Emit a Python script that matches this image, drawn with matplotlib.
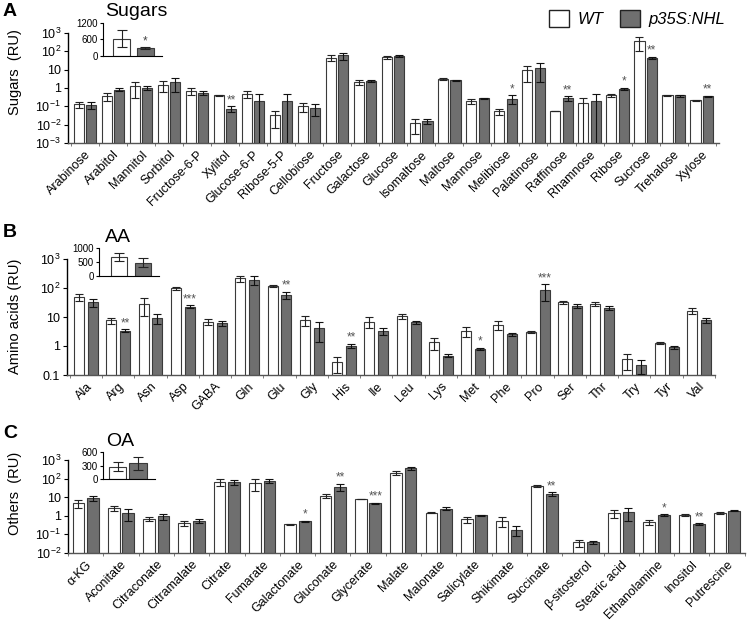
import numpy as np
import matplotlib.pyplot as plt
from matplotlib.patches import Patch
from matplotlib.ticker import NullLocator

plt.rcParams['font.family'] = ['Liberation Sans', 'DejaVu Sans']
plt.rcParams['mathtext.default'] = 'regular'

# ---- data (relative units) ----
sugar_names = ['Arabinose', 'Arabitol', 'Mannitol', 'Sorbitol', 'Fructose-6-P', 'Xylitol',
               'Glucose-6-P', 'Ribose-5-P', 'Cellobiose', 'Fructose', 'Galactose', 'Glucose',
               'Isomaltose', 'Maltose', 'Mannose', 'Melibiose', 'Palatinose', 'Raffinose',
               'Rhamnose', 'Ribose', 'Sucrose', 'Trehalose', 'Xylose']
sugar_wt = [0.13, 0.36, 1.23, 1.5, 0.69, 0.40, 0.49, 0.032, 0.10, 45, 2.1, 49,
            0.012, 3.0, 0.19, 0.053, 9.2, 0.053, 0.15, 0.40, 350, 0.40, 0.21]
sugar_wt_err = [0.05, 0.17, 0.95, 0.9, 0.3, 0.03, 0.2, 0.025, 0.05, 15, 0.6, 10,
                0.009, 0.3, 0.05, 0.02, 7, 0.0, 0.15, 0.07, 250, 0.04, 0.01]
sugar_nhl = [0.12, 0.81, 1.0, 2.1, 0.56, 0.074, 0.19, 0.19, 0.085, 60, 2.4, 56,
             0.016, 2.6, 0.27, 0.26, 13, 0.28, 0.19, 0.92, 45, 0.39, 0.35]
sugar_nhl_err = [0.05, 0.15, 0.25, 1.5, 0.12, 0.025, 0.28, 0.3, 0.055, 25, 0.2, 8,
                 0.005, 0.15, 0.03, 0.13, 11, 0.08, 0.26, 0.12, 5, 0.05, 0.03]
sugar_stars = ['', '', '', '', '', '**', '', '', '', '', '', '', '', '', '', '*', '',
               '**', '', '*', '**', '', '**']

aa_names = ['Ala', 'Arg', 'Asn', 'Asp', 'GABA', 'Gln', 'Glu', 'Gly', 'His', 'Ile',
            'Leu', 'Lys', 'Met', 'Phe', 'Pro', 'Ser', 'Thr', 'Try', 'Tyr', 'Val']
aa_wt = [49, 7.6, 29, 100, 6.9, 215, 117, 7.9, 0.27, 6.9,
         10.5, 1.35, 3.4, 5.4, 3.0, 32, 29, 0.35, 1.26, 16.6]
aa_wt_err = [12, 2, 18, 12, 1.8, 50, 6, 3, 0.15, 2.8,
             2, 0.6, 1.3, 1.7, 0.2, 5, 5, 0.2, 0.12, 4]
aa_nhl = [32, 3.4, 9.1, 23, 6.1, 187, 59, 4.1, 1.02, 3.3,
          6.5, 0.46, 0.8, 2.6, 87, 24, 21, 0.22, 0.92, 7.9]
aa_nhl_err = [9, 0.4, 3.5, 3, 1.2, 65, 16, 2.7, 0.18, 0.9,
              0.8, 0.05, 0.07, 0.3, 50, 3, 3, 0.11, 0.12, 1.5]
aa_stars = ['', '**', '', '***', '', '', '**', '', '**', '',
            '', '', '*', '', '***', '', '', '', '', '']

oa_names = ['α-KG', 'Aconitate', 'Citraconate', 'Citramalate', 'Citrate', 'Fumarate',
            'Galactonate', 'Gluconate', 'Glycerate', 'Malate', 'Malonate', 'Salicylate',
            'Shikimate', 'Succinate', 'β-sitosterol', 'Stearic acid', 'Ethanolamine',
            'Inositol', 'Putrescine']
oa_wt = [4.8, 2.6, 0.69, 0.41, 69, 56, 0.36, 12.3, 8.1, 210, 1.5, 0.66,
         0.54, 42, 0.037, 1.4, 0.46, 1.1, 1.4]
oa_wt_err = [2.2, 0.8, 0.15, 0.12, 30, 35, 0.02, 3, 0.2, 45, 0.02, 0.25,
             0.3, 6, 0.015, 0.6, 0.12, 0.1, 0.2]
oa_nhl = [8.9, 1.4, 0.92, 0.54, 63, 75, 0.51, 37, 4.8, 357, 2.4, 1.05,
          0.18, 15, 0.038, 1.6, 1.13, 0.36, 1.85]
oa_nhl_err = [3, 0.9, 0.3, 0.15, 17, 20, 0.02, 15, 0.3, 70, 0.4, 0.1,
              0.1, 3, 0.008, 1.1, 0.1, 0.05, 0.1]
oa_stars = ['', '', '', '', '', '', '*', '**', '***', '', '', '',
            '', '**', '', '', '*', '**', '']

# totals for the insets: [WT, p35S:NHL]
sugar_total = [630, 277]
sugar_total_err = [310, 30]
aa_total = [668, 475]
aa_total_err = [150, 170]
oa_total = [273, 349]
oa_total_err = [100, 150]

W, H = 747, 620
GRAY = '#6f6f6f'
EDGE = '#3a3a3a'

fig = plt.figure(figsize=(W / 100, H / 100), dpi=100)


def fx(px):
    return px / W


def fy(px):
    return 1 - px / H


def draw_panel(rect, names, wt, wt_err, nhl, nhl_err, stars, xpos, off, w, xlim, ylim,
               yticks, yticklabels, boundaries):
    ax = fig.add_axes(rect)
    ax.set_yscale('log')
    wt = np.array(wt, float)
    nhl = np.array(nhl, float)
    wt_err = np.array(wt_err, float)
    nhl_err = np.array(nhl_err, float)
    ax.bar(xpos - off, wt, w, color='white', edgecolor=EDGE, lw=0.8, zorder=2)
    ax.bar(xpos + off, nhl, w, color=GRAY, edgecolor=EDGE, lw=0.8, zorder=2)
    ax.errorbar(xpos - off, wt, yerr=[np.minimum(wt_err, wt * 0.999), wt_err], fmt='none',
                ecolor='#222222', elinewidth=0.8, capsize=3.2, capthick=0.8, zorder=3)
    ax.errorbar(xpos + off, nhl, yerr=[np.minimum(nhl_err, nhl * 0.999), nhl_err], fmt='none',
                ecolor='#111111', elinewidth=0.8, capsize=3.2, capthick=0.8, zorder=3)
    for x, v, e, s in zip(xpos + off, nhl, nhl_err, stars):
        if s:
            ax.annotate(s, xy=(x, v + e), xytext=(0, 0), textcoords='offset points',
                        ha='center', va='bottom', fontsize=8.5, color='#555555')
    ax.set_xlim(*xlim)
    ax.set_ylim(*ylim)
    ax.set_yticks(yticks)
    ax.set_yticklabels(yticklabels, fontsize=9)
    ax.yaxis.set_minor_locator(NullLocator())
    ax.set_xticks(xpos)
    ax.set_xticklabels(names, rotation=45, ha='right', rotation_mode='anchor', fontsize=9)
    ax.set_xticks(boundaries, minor=True)
    ax.tick_params(axis='x', which='major', length=0, pad=4)
    ax.tick_params(axis='x', which='minor', length=2, color='#666666')
    ax.tick_params(axis='y', length=3, width=0.8, pad=2)
    for s in ['top', 'right']:
        ax.spines[s].set_visible(False)
    ax.spines['left'].set_linewidth(1.0)
    ax.spines['bottom'].set_color('#555555')
    ax.spines['bottom'].set_linewidth(1.0)
    return ax


def draw_inset(rect, vals, errs, star, ymax, yticks, xlim, w):
    ins = fig.add_axes(rect)
    ins.bar([0, 1], vals, w, color=['white', GRAY], edgecolor=EDGE, lw=0.8)
    ins.errorbar([0, 1], vals, yerr=errs, fmt='none', ecolor='#222222',
                 elinewidth=0.8, capsize=3.5, capthick=0.8)
    if star:
        ins.annotate(star, xy=(1, vals[1] + errs[1]), xytext=(0, 0), textcoords='offset points',
                     ha='center', va='bottom', fontsize=8.5, color='#444444')
    ins.set_ylim(0, ymax)
    ins.set_xlim(*xlim)
    ins.set_yticks(yticks)
    ins.set_yticklabels([str(t) for t in yticks], fontsize=7)
    ins.set_xticks([])
    ins.tick_params(axis='y', length=2.5, pad=1)
    ins.patch.set_alpha(0)
    for s in ['top', 'right']:
        ins.spines[s].set_visible(False)
    return ins


log_labels = {3: '$10^{3}$', 2: '$10^{2}$', 1: '10', 0: '1', -1: '$10^{-1}$',
              -2: '$10^{-2}$', -3: '$10^{-3}$'}

# ---- panel A: sugars ----
nA = len(sugar_names)
xA = np.arange(nA)
draw_panel([fx(68), fy(143), fx(28.04 * (nA + 0.2)), (143 - 33) / H],
           sugar_names, sugar_wt, sugar_wt_err, sugar_nhl, sugar_nhl_err, sugar_stars,
           xA, 0.22, 0.36, (-0.6, nA - 0.4), (1e-3, 1e3),
           [10.0 ** k for k in range(-3, 4)], [log_labels[k] for k in range(-3, 4)],
           np.arange(nA + 1) - 0.5)

# ---- panel B: amino acids ----
nB = len(aa_names)
xB = np.arange(nB)
draw_panel([fx(67), fy(375), fx(648), (375 - 259) / H],
           aa_names, aa_wt, aa_wt_err, aa_nhl, aa_nhl_err, aa_stars,
           xB, 0.215, 0.31, (-0.59, nB - 0.59), (0.1, 1e3),
           [0.1, 1, 10, 100, 1000], ['0.1', '1', '10', '$10^{2}$', '$10^{3}$'],
           np.arange(nB + 1) - 0.5)

# ---- panel C: others ----
nC = len(oa_names)
xC = np.arange(nC) + np.where(np.arange(nC) >= 14, 0.17, 0.0)
bC = np.concatenate([np.arange(15) - 0.5, np.arange(15, nC + 1) - 0.5 + 0.17])
draw_panel([fx(68), fy(553), fx(35.3 * (nC + 0.17)), (553 - 460) / H],
           oa_names, oa_wt, oa_wt_err, oa_nhl, oa_nhl_err, oa_stars,
           xC, 0.205, 0.33, (-0.5, nC - 0.5 + 0.17), (1e-2, 1e3),
           [10.0 ** k for k in range(-2, 4)], [log_labels[k] for k in range(-2, 4)],
           bC)

# ---- insets ----
draw_inset([fx(103), fy(56), fx(59), 33.3 / H], sugar_total, sugar_total_err, '*',
           1200, [0, 600, 1200], (-0.79, 1.72), 0.72)
draw_inset([fx(99), fy(276), fx(60), 28 / H], aa_total, aa_total_err, '',
           1000, [0, 500, 1000], (-0.8, 1.65), 0.65)
draw_inset([fx(103), fy(479), fx(52), 27 / H], oa_total, oa_total_err, '',
           600, [0, 300, 600], (-0.71, 1.83), 0.85)

# ---- texts ----
fig.text(fx(136), fy(12), 'Sugars', ha='center', va='center', fontsize=14)
fig.text(fx(118), fy(238), 'AA', ha='center', va='center', fontsize=14)
fig.text(fx(120), fy(442), 'OA', ha='center', va='center', fontsize=14)

fig.text(fx(3), fy(11), 'A', weight='bold', fontsize=14, va='center', ha='left')
fig.text(fx(3), fy(232), 'B', weight='bold', fontsize=14, va='center', ha='left')
fig.text(fx(3), fy(433), 'C', weight='bold', fontsize=14, va='center', ha='left')

fig.text(fx(15), fy(72), 'Sugars  (RU)', rotation=90, ha='center', va='center', fontsize=10.5)
fig.text(fx(15), fy(316), 'Amino acids (RU)', rotation=90, ha='center', va='center', fontsize=10.5)
fig.text(fx(15), fy(493), 'Others  (RU)', rotation=90, ha='center', va='center', fontsize=10.5)

handles = [Patch(facecolor='white', edgecolor='#222222', lw=1.0),
           Patch(facecolor=GRAY, edgecolor='#222222', lw=1.0)]
fig.legend(handles, ['WT', 'p35S:NHL'], loc='upper right', bbox_to_anchor=(fx(735), 1.0),
           ncol=2, frameon=False, handlelength=1.2, handleheight=1.2, handletextpad=0.5,
           columnspacing=1.0, prop={'style': 'italic', 'size': 12}, borderaxespad=0.2)

fig.savefig('out.png', dpi=100)
